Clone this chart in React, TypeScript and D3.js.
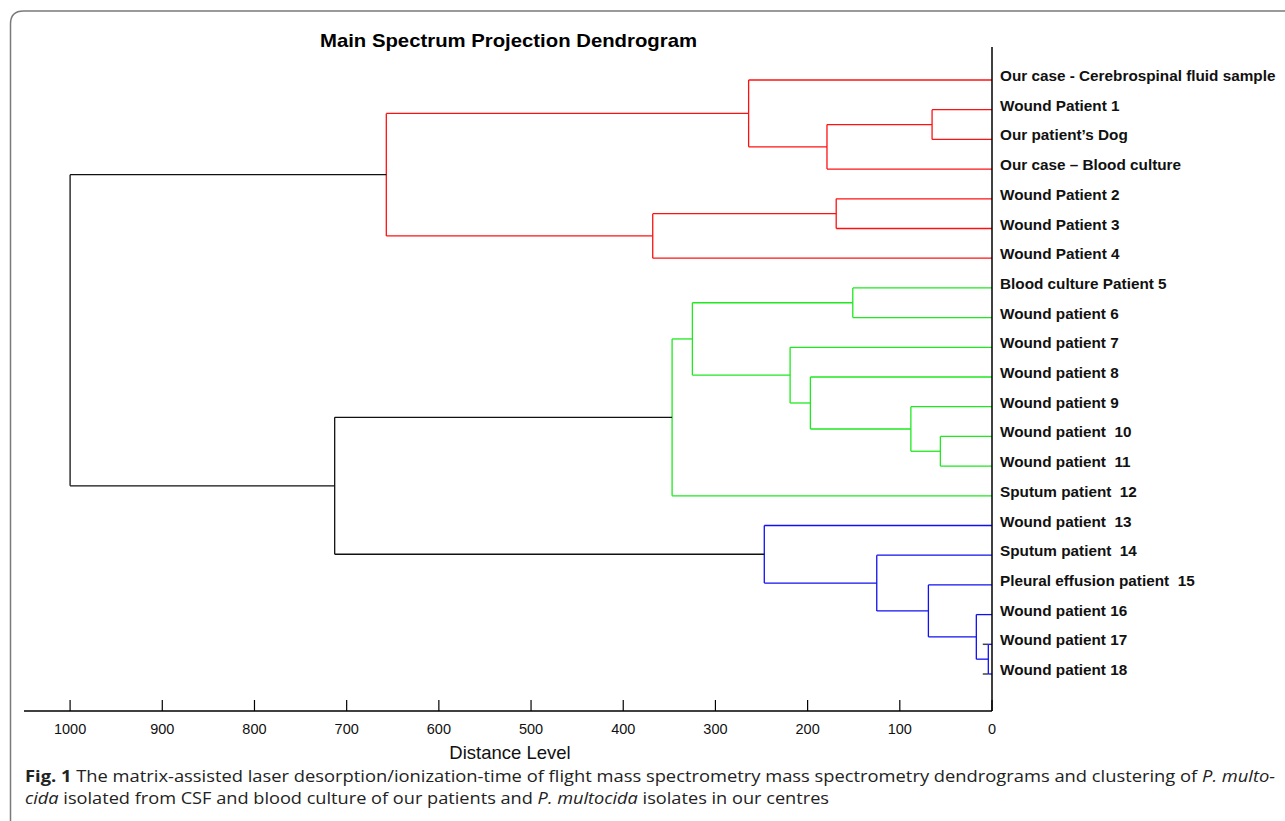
import React, { useMemo } from "react";
import * as d3 from "d3";

// leaves, top to bottom
const leaves = [
  "Our case - Cerebrospinal fluid sample",
  "Wound Patient 1",
  "Our patient\u2019s Dog",
  "Our case \u2013 Blood culture",
  "Wound Patient 2",
  "Wound Patient 3",
  "Wound Patient 4",
  "Blood culture Patient 5",
  "Wound patient 6",
  "Wound patient 7",
  "Wound patient 8",
  "Wound patient 9",
  "Wound patient  10",
  "Wound patient  11",
  "Sputum patient  12",
  "Wound patient  13",
  "Sputum patient  14",
  "Pleural effusion patient  15",
  "Wound patient 16",
  "Wound patient 17",
  "Wound patient 18",
];

// merges: [childA, childB, distance, cluster]; "L3" = leaf 3, "M2" = merge 2
const merges: [string, string, number, string][] = [
  ["L1", "L2", 65, "red"],
  ["M0", "L3", 179, "red"],
  ["L0", "M1", 264, "red"],
  ["L4", "L5", 169, "red"],
  ["M3", "L6", 368, "red"],
  ["M2", "M4", 657, "red"],
  ["L7", "L8", 151, "green"],
  ["L12", "L13", 56, "green"],
  ["L11", "M7", 88, "green"],
  ["L10", "M8", 197, "green"],
  ["L9", "M9", 219, "green"],
  ["M6", "M10", 325, "green"],
  ["M11", "L14", 347, "green"],
  ["L19", "L20", 4, "blue"],
  ["L18", "M13", 17, "blue"],
  ["L17", "M14", 69, "blue"],
  ["L16", "M15", 125, "blue"],
  ["L15", "M16", 247, "blue"],
  ["M12", "M17", 713, "black"],
  ["M5", "M18", 1000, "black"],
];

const ticks = [1000, 900, 800, 700, 600, 500, 400, 300, 200, 100, 0];

const colors: Record<string, string> = {
  red: "#ff1010",
  green: "#1ee81e",
  blue: "#1010f0",
  black: "#111111",
};

const width = 1285;
const height = 821;
const axisX = 992;
const axisY = 711;
const font = "Liberation Sans, Arial, sans-serif";

export default function App() {
  const x = d3.scaleLinear().domain([0, 1050]).range([axisX, 24]);
  const y = d3.scalePoint<string>().domain(leaves).range([80, 674]);

  const segs = useMemo(() => {
    const pos: Record<string, { x: number; y: number }> = {};
    leaves.forEach((l, i) => (pos["L" + i] = { x: x(0), y: y(l)! }));
    const out: { x1: number; y1: number; x2: number; y2: number; c: string }[] = [];
    merges.forEach(([a, b, h, c], i) => {
      const pa = pos[a];
      const pb = pos[b];
      const nx = x(h);
      const col = colors[c];
      out.push({ x1: nx, y1: pa.y, x2: nx, y2: pb.y, c: col });
      out.push({ x1: nx, y1: pa.y, x2: pa.x, y2: pa.y, c: col });
      out.push({ x1: nx, y1: pb.y, x2: pb.x, y2: pb.y, c: col });
      pos["M" + i] = { x: nx, y: (pa.y + pb.y) / 2 };
    });
    return out;
  }, []);

  const stubLeaves = [19, 20];

  return (
    <div style={{ position: "absolute", left: 0, top: 0 }}>
      <svg width={width} height={height} style={{ display: "block", background: "#fff" }}>
        <path d={`M10.5 ${height} L10.5 24 Q10.5 11 23.5 11 L${width} 11`} fill="none" stroke="#7a7a7a" strokeWidth={1.5} />

        <text x={320} y={47} fontFamily={font} fontWeight="bold" fontSize={19} fill="#000" textLength={377} lengthAdjust="spacingAndGlyphs">
          Main Spectrum Projection Dendrogram
        </text>

        {segs.map((s, i) => (
          <line key={i} x1={s.x1} y1={s.y1} x2={s.x2} y2={s.y2} stroke={s.c} strokeWidth={1.3} />
        ))}
        {stubLeaves.map((i) => (
          <line key={"s" + i} x1={x(10)} x2={x(4)} y1={y(leaves[i])} y2={y(leaves[i])} stroke="#444" strokeWidth={1.5} />
        ))}

        {/* right vertical axis */}
        <line x1={axisX} x2={axisX} y1={47} y2={axisY} stroke="#000" strokeWidth={1.5} />
        {/* bottom axis */}
        <line x1={x(1050)} x2={axisX} y1={axisY} y2={axisY} stroke="#000" strokeWidth={1.5} />
        {ticks.map((t) => (
          <g key={t}>
            <line x1={x(t)} x2={x(t)} y1={axisY - 11} y2={axisY} stroke="#000" strokeWidth={1.2} />
            <text x={x(t)} y={734} textAnchor="middle" fontFamily={font} fontSize={14.5} fill="#111">
              {t}
            </text>
          </g>
        ))}
        <text x={510} y={759} textAnchor="middle" fontFamily={font} fontSize={18.5} fill="#111">
          Distance Level
        </text>

        {leaves.map((l) => (
          <text key={l} x={1000} y={y(l)! + 1} fontFamily={font} fontWeight="bold" fontSize={15.3} fill="#111" style={{ whiteSpace: "pre" }}>
            {l}
          </text>
        ))}

        <text x={25} y={782} fontFamily="Open Sans, Noto Sans, sans-serif" fontSize={16} fill="#222" textLength={1250} lengthAdjust="spacingAndGlyphs">
          <tspan fontWeight="bold">Fig. 1</tspan>
          <tspan>{"  The matrix-assisted laser desorption/ionization-time of flight mass spectrometry mass spectrometry dendrograms and clustering of "}</tspan>
          <tspan fontStyle="italic">P. multo-</tspan>
        </text>
        <text x={25} y={804} fontFamily="Open Sans, Noto Sans, sans-serif" fontSize={16} fill="#222" textLength={804} lengthAdjust="spacingAndGlyphs">
          <tspan fontStyle="italic">cida</tspan>
          <tspan>{" isolated from CSF and blood culture of our patients and "}</tspan>
          <tspan fontStyle="italic">P. multocida</tspan>
          <tspan>{" isolates in our centres"}</tspan>
        </text>
      </svg>
    </div>
  );
}
